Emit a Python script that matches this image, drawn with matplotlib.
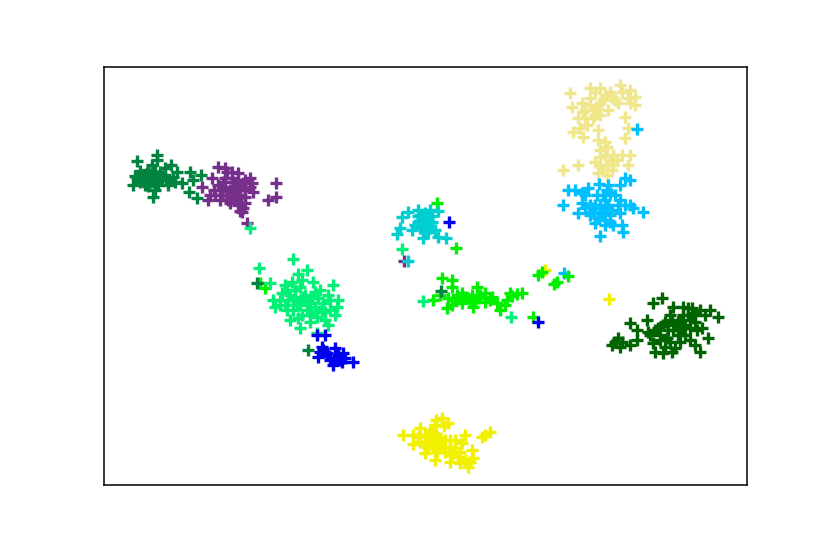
import matplotlib
matplotlib.use("Agg")
import matplotlib.pyplot as plt

# t-SNE style embedding, positions (y grows downward)
purple = [(218,167),(227,172),(238,173),(232,172),(250,178),(212,178),(202,187),(223,182),(233,182),(243,183),
          (220,190),(230,190),(240,190),(253,192),(208,200),(220,200),(230,198),(245,197),(237,200),(245,203),
          (242,212),(240,211),(247,223),(276,183),(276,197),(268,200),(215,195),(227,195),(250,187),(230,203),(404,261),
          (225,178),(232,178),(238,180),(225,187),(235,187),(245,190),(222,195),(233,193),(240,195),(228,200),
          (238,205),(243,208),(218,185),(214,190),(210,195),(245,180),(252,183),(225,168)]
yellow = [(403,435),(413,435),(420,428),(413,444),(430,430),(442,418),(435,425),(448,423),(430,440),(440,438),
          (425,453),(435,460),(450,447),(462,443),(465,435),(455,440),(450,462),(460,463),(458,457),(472,450),
          (473,458),(468,467),(482,437),(490,432),(485,435),(433,448),(443,448),(440,445),(609,299),(545,270),
          (428,435),(432,432),(436,434),(425,442),(433,438),(438,442),(445,440),(428,445),(437,452),(445,452),
          (450,440),(452,455),(465,460),(436,420),(444,426),(428,448),(420,442),
          (418,437),(455,448),(460,452),(470,462),(425,435)]
khaki = [(570,93),(590,88),(600,88),(620,85),(630,90),(610,92),(590,98),(635,97),(572,107),(582,103),
         (600,103),(618,103),(635,105),(593,110),(578,118),(608,110),(625,117),(587,125),(593,118),(628,128),
         (573,132),(583,137),(625,138),(598,140),(607,147),(600,157),(595,162),(613,155),(630,155),(628,165),
         (578,165),(563,170),(607,165),(613,165),(598,173),(607,175),
         (595,92),(605,95),(612,97),(585,110),(590,105),(597,108),(585,118),(622,92),(628,98),(600,150),
         (605,155),(610,160),(603,170),(600,165),(605,142),(612,170),(617,160),(622,155),(595,115),(603,100),
         (583,112),(600,115),(615,100),(630,103),(580,128),(598,130)]
sky = [(637,129),(568,190),(575,190),(582,193),(588,188),(599,184),(608,185),(620,185),(625,178),(630,180),
       (563,205),(582,203),(578,213),(593,208),(610,193),(620,200),(630,205),(633,208),(643,212),(607,208),
       (592,212),(620,213),(595,223),(605,220),(613,225),(623,232),(600,236),(610,215),(600,213),(622,225),(564,273),
       (605,200),(608,205),(603,212),(612,210),(598,218),(605,225),(610,222),(600,205),(585,208),(590,205),
       (595,205),(603,195),(607,190),(615,195),(590,215),(625,205),(618,205),(585,195),(597,195)]
lime = [(437,203),(456,248),(442,278),(452,280),(452,287),(433,300),(448,298),(447,308),(462,293),(477,287),
        (485,293),(492,297),(462,303),(473,307),(468,298),(478,298),(485,302),(500,310),(507,300),(510,293),
        (522,293),(517,294),(533,317),(538,275),(542,272),(557,282),(568,276),(457,295),(497,303),(472,295),
        (260,283),(265,288),(554,284),(465,297),(470,300),(475,302),(480,295),(490,300),(460,298),(455,300),
        (440,295),(452,305),(505,305),(512,296)]
sea_green = [(137,161),(157,155),(157,160),(152,165),(171,165),(140,171),(177,172),(135,176),(133,185),(142,180),
             (147,173),(153,172),(160,172),(165,175),(150,182),(155,178),(162,180),(168,185),(145,185),(155,190),
             (153,197),(182,183),(173,177),(190,172),(193,180),(201,175),(189,192),(197,198),(150,177),(158,185),
             (140,182),(257,283),(308,350),(441,291),(150,175),(145,178),(155,172),(158,176),(152,180),(148,170),
             (162,176),(143,175),(157,183),(166,180),(148,186),(165,168),(175,182),(137,178)]
spring = [(259,268),(293,259),(307,270),(298,274),(313,282),(270,283),(292,282),(333,285),(287,290),(300,287),
          (315,292),(282,293),(273,300),(288,300),(303,297),(328,295),(338,300),(275,307),(287,310),(297,303),
          (310,303),(323,303),(337,307),(298,318),(310,322),(300,328),(328,325),(317,317),(335,315),(317,333),
          (325,312),(307,310),(315,307),(250,228),(402,249),(423,301),(511,317),
          (295,290),(305,295),(295,297),(300,305),(305,300),(318,298),(312,298),(290,295),(280,300),(315,312),
          (302,315),(293,310),(322,310),(330,300),(302,280),(280,305),(310,315),
          (285,285),(320,290),(330,310),(285,305),(325,320),(290,320)]
teal = [(402,217),(408,212),(418,210),(430,210),(438,211),(425,218),(418,222),(432,222),(400,228),(397,234),
        (412,230),(423,228),(435,230),(423,238),(438,237),(446,238),(408,261),(427,225),(422,217),(428,232),
        (420,215),(425,213),(428,220),(420,228),(425,232),(415,225),(430,228),(424,222),(418,216),(432,216)]
blue = [(325,335),(317,335),(322,347),(335,348),(318,357),(327,353),(343,353),(333,365),(340,360),(353,362),
        (323,350),(345,358),(330,360),(449,222),(538,322),(325,352),(338,355),(320,352),(342,362),(335,358)]
dark_green = [(653,303),(662,298),(673,307),(683,307),(692,308),(700,310),(710,310),(718,317),(688,315),(630,323),
              (647,320),(637,330),(648,332),(665,322),(658,328),(673,330),(683,328),(702,328),(708,338),(695,322),
              (637,340),(618,338),(612,345),(620,347),(630,345),(653,343),(655,352),(663,353),(675,348),(680,342),
              (667,338),(695,345),(700,352),(685,335),(672,320),(678,322),
              (688,308),(693,313),(683,315),(680,322),(690,320),(675,325),(668,330),(660,335),(678,335),(690,328),
              (695,315),(670,342),(660,340),(665,347),(685,325),(622,342),(615,342),(680,330),
              (655,330),(663,325),(670,315),(697,330),(690,340),(672,352),(650,335),(705,315)]

groups = [(purple, '#76308c'), (yellow, '#f0f000'), (khaki, '#f0e68c'), (sky, '#00bfff'),
          (lime, '#00f000'), (sea_green, '#00843f'), (spring, '#00f078'), (teal, '#00ced1'),
          (blue, '#0000f0'), (dark_green, '#006400')]

fig = plt.figure(figsize=(8.3, 5.54), dpi=100)
ax = fig.add_axes([104/830, 1 - 485/554, 643/830, 418/554])

for points, colour in groups:
    xs = [p[0] for p in points]
    ys = [p[1] for p in points]
    ax.plot(xs, ys, linestyle='none', marker='+', markersize=9, markeredgewidth=2.4, color=colour)

ax.set_xlim(104, 747)
ax.set_ylim(485, 67)
ax.set_xticks([])
ax.set_yticks([])
for spine in ax.spines.values():
    spine.set_linewidth(1.1)

plt.savefig('out.png', dpi=100)
